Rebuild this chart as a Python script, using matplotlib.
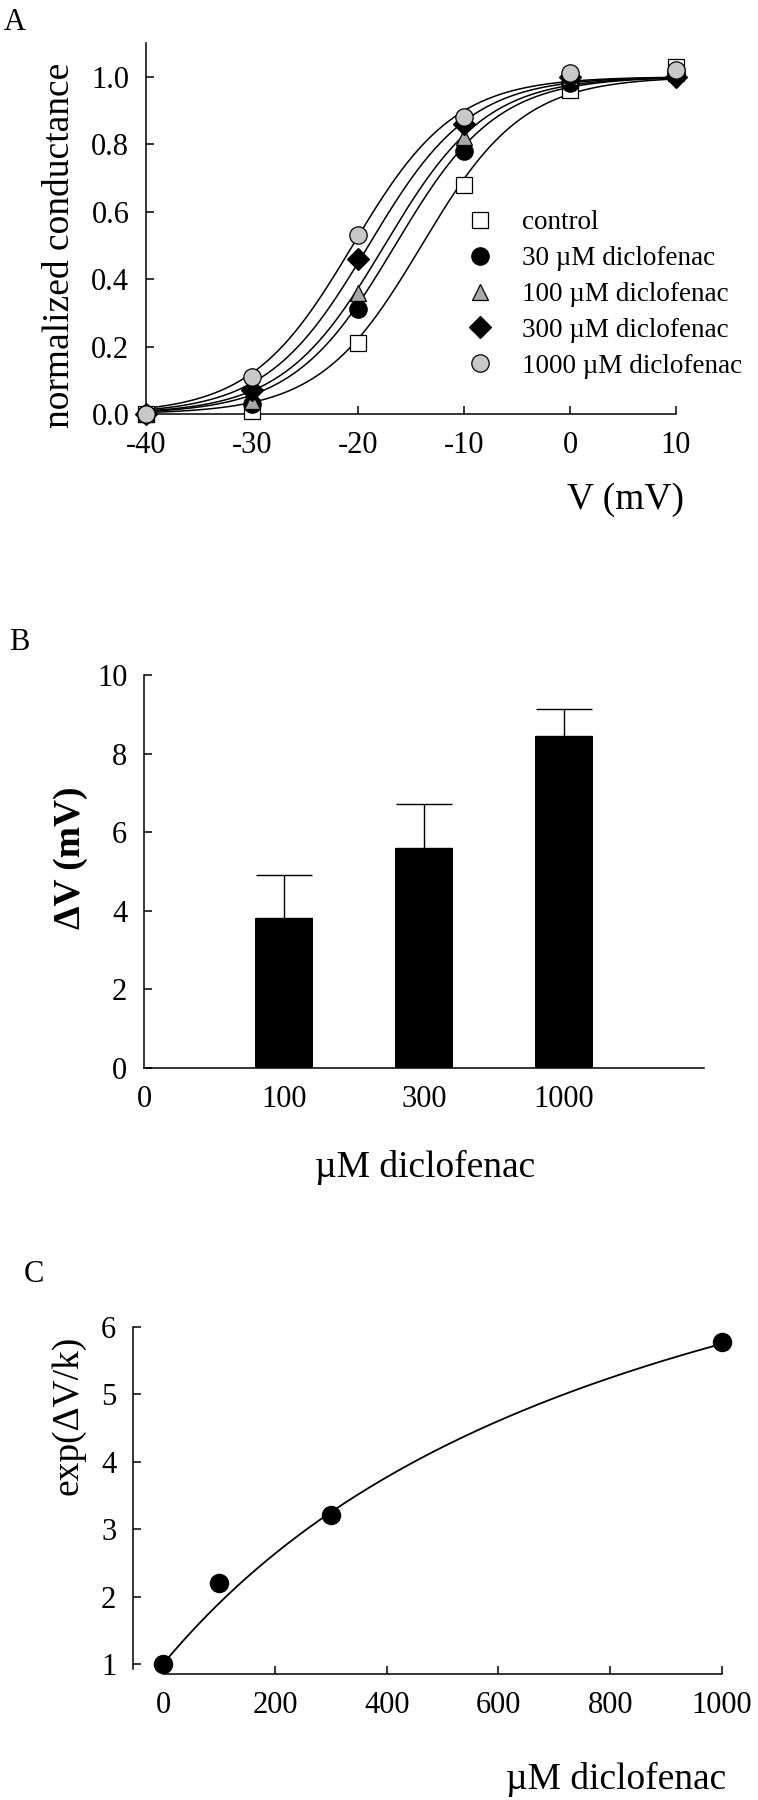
import numpy as np
import matplotlib.pyplot as plt

plt.rcParams['font.family'] = ['Liberation Serif', 'DejaVu Serif']
plt.rcParams['axes.unicode_minus'] = False

# ---- panel A: conductance-voltage data ----
volts = [-40, -30, -20, -10, 0, 10]
g_control = [0.0, 0.01, 0.21, 0.68, 0.96, 1.03]
g_30 = [0.0, 0.03, 0.31, 0.78, 0.98, 1.01]
g_100 = [0.0, 0.04, 0.36, 0.82, 1.00, 1.01]
g_300 = [0.0, 0.07, 0.46, 0.86, 1.00, 1.00]
g_1000 = [0.0, 0.11, 0.53, 0.88, 1.01, 1.02]
labels_a = ['control', '30 µM diclofenac', '100 µM diclofenac',
            '300 µM diclofenac', '1000 µM diclofenac']
# Boltzmann fit parameters
v_half = [-14.0, -16.5, -17.5, -19.0, -20.5]
slope_k = 4.8

# ---- panel B: shift of activation ----
conc_b = ['0', '100', '300', '1000']
dv_mean = [3.82, 5.61, 8.44]
dv_err = [1.09, 1.11, 0.70]

# ---- panel C: exp(dV/k) vs concentration ----
conc_c = [0, 100, 300, 1000]
exp_dv = [1.0, 2.2, 3.21, 5.77]
bmax = 9.07
kd = 909.0

W, H = 758, 1800
fig = plt.figure(figsize=(W / 100, H / 100), dpi=100)


def axes_px(left, top, right, bottom):
    return fig.add_axes([left / W, 1 - bottom / H, (right - left) / W, (bottom - top) / H])


def style(ax):
    for s in ['top', 'right']:
        ax.spines[s].set_visible(False)
    for s in ['left', 'bottom']:
        ax.spines[s].set_linewidth(1.1)
    ax.tick_params(direction='in', length=6, width=1.1, labelsize=22)
    ax.tick_params(axis='y', pad=12)
    ax.tick_params(axis='x', pad=12)


# ================= A =================
axA = axes_px(146, 43, 676, 414)
style(axA)
series = [g_control, g_30, g_100, g_300, g_1000]
markers = ['s', 'o', '^', 'D', 'o']
faces = ['white', 'black', '#a8a8a8', 'black', '#c8c8c8']
sizes = [11, 12.5, 11, 11, 12.5]
vv = np.linspace(-40, 10, 300)
for i in range(len(series)):
    fit = 1.0 / (1.0 + np.exp((v_half[i] - vv) / slope_k))
    axA.plot(vv, fit, color='black', lw=1.1, zorder=2)
for i in range(len(series)):
    axA.plot(volts, series[i], ls='none', marker=markers[i], ms=sizes[i],
             mfc=faces[i], mec='black', mew=0.9, label=labels_a[i], zorder=3,
             clip_on=False)
axA.set_xlim(-40, 10)
axA.set_ylim(0, 1.1)
axA.set_xticks([-40, -30, -20, -10, 0, 10])
axA.set_yticks([0, 0.2, 0.4, 0.6, 0.8, 1.0])
axA.set_yticklabels(['0.0', '0.2', '0.4', '0.6', '0.8', '1.0'])
axA.text(-0.162, 0.455, 'normalized conductance', transform=axA.transAxes,
         rotation=90, ha='center', va='center', fontsize=27)
axA.text(1.015, -0.232, 'V (mV)', transform=axA.transAxes,
         ha='right', va='center', fontsize=27)
axA.legend(loc='upper left', bbox_to_anchor=(0.605, 0.549), frameon=False,
           fontsize=19.5, handlelength=1.0, handletextpad=1.05,
           labelspacing=0.40, borderpad=0, borderaxespad=0, numpoints=1)

# ================= B =================
axB = axes_px(144, 675, 704, 1068)
style(axB)
xb = np.arange(1, len(dv_mean) + 1)
axB.bar(xb, dv_mean, width=0.41, color='black', zorder=2)
axB.errorbar(xb, dv_mean, yerr=[np.zeros(len(dv_err)), dv_err], fmt='none',
             ecolor='black', elinewidth=1.0, capsize=20, capthick=1.0, zorder=1)
axB.set_xlim(0, 4)
axB.set_ylim(0, 10)
axB.set_xticks(range(len(conc_b)))
axB.set_xticklabels(conc_b)
axB.tick_params(axis='x', length=0)
axB.set_yticks([0, 2, 4, 6, 8, 10])
axB.text(-0.132, 0.534, 'ΔV (mV)', transform=axB.transAxes, rotation=90,
         ha='center', va='center', fontsize=27, fontweight='bold')
axB.text(0.502, -0.252, 'µM diclofenac', transform=axB.transAxes,
         ha='center', va='center', fontsize=27)

# ================= C =================
axC = axes_px(133, 1327, 722, 1674)
style(axC)
cc = np.linspace(0, 1000, 300)
axC.plot(cc, 1 + bmax * cc / (cc + kd), color='black', lw=1.3, zorder=2)
axC.plot(conc_c, exp_dv, ls='none', marker='o', ms=13, mfc='black',
         mec='black', zorder=3, clip_on=False)
axC.set_xlim(-54, 1000)
axC.set_ylim(0.85, 6)
axC.spines['left'].set_bounds(0.93, 6)
axC.spines['bottom'].set_bounds(0, 1000)
axC.set_xticks([0, 200, 400, 600, 800, 1000])
axC.set_yticks([1, 2, 3, 4, 5, 6])
axC.text(-0.110, 0.746, 'exp(ΔV/k)', transform=axC.transAxes, rotation=90,
         ha='center', va='center', fontsize=27)
axC.text(1.008, -0.305, 'µM diclofenac', transform=axC.transAxes,
         ha='right', va='center', fontsize=27)

# panel letters
fig.text(15 / W, 1 - 23 / H, 'A', fontsize=22, ha='center', va='center')
fig.text(19 / W, 1 - 642 / H, 'B', fontsize=22, ha='center', va='center')
fig.text(34 / W, 1 - 1274 / H, 'C', fontsize=22, ha='center', va='center')

fig.savefig('out.png', dpi=100)
